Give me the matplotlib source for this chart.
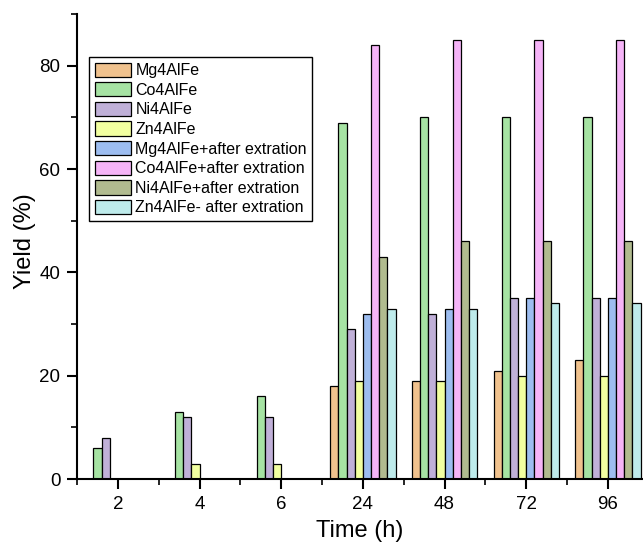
import matplotlib
matplotlib.use("Agg")
import matplotlib.pyplot as plt
import numpy as np
from matplotlib.ticker import MultipleLocator, FixedLocator

plt.rcParams['font.family'] = ['Liberation Sans', 'DejaVu Sans']

categories = ["2", "4", "6", "24", "48", "72", "96"]
series_names = ["Mg4AlFe", "Co4AlFe", "Ni4AlFe", "Zn4AlFe",
                "Mg4AlFe+after extration", "Co4AlFe+after extration",
                "Ni4AlFe+after extration", "Zn4AlFe- after extration"]
mg4alfe = [0, 0, 0, 18, 19, 21, 23]
co4alfe = [6, 13, 16, 69, 70, 70, 70]
ni4alfe = [8, 12, 12, 29, 32, 35, 35]
zn4alfe = [0, 3, 3, 19, 19, 20, 20]
mg4alfe_after = [0, 0, 0, 32, 33, 35, 35]
co4alfe_after = [0, 0, 0, 84, 85, 85, 85]
ni4alfe_after = [0, 0, 0, 43, 46, 46, 46]
zn4alfe_after = [0, 0, 0, 33, 33, 34, 34]
series = [mg4alfe, co4alfe, ni4alfe, zn4alfe,
          mg4alfe_after, co4alfe_after, ni4alfe_after, zn4alfe_after]
colors = ["#F0C28E", "#A6E3A3", "#C0B0D8", "#F2FFA0",
          "#9DBDF0", "#F5B4F7", "#B1BB8F", "#BEEBEB"]

fig = plt.figure(figsize=(6.43, 5.51), dpi=100)
ax = fig.add_axes([77/643, 72/551, 1 - 77/643, (479 - 14)/551])

x = np.arange(len(categories))
w = 0.1
n = len(series)
for i, (vals, name, c) in enumerate(zip(series, series_names, colors)):
    ax.bar(x + (i - (n - 1) / 2) * w, vals, width=w, color=c,
           edgecolor="black", linewidth=0.9, label=name)

ax.set_xlim(-0.5, 6.43)
ax.set_ylim(0, 90)
ax.set_xticks(x)
ax.set_xticklabels(categories)
ax.xaxis.set_minor_locator(FixedLocator(np.arange(-0.5, 7, 1.0)))
ax.yaxis.set_major_locator(MultipleLocator(20))
ax.yaxis.set_minor_locator(MultipleLocator(10))
ax.spines['top'].set_visible(False)
ax.spines['right'].set_visible(False)
for s in ['left', 'bottom']:
    ax.spines[s].set_linewidth(1.5)
ax.tick_params(which='major', direction='out', length=7, width=1.5,
               labelsize=13.5, pad=5)
ax.tick_params(which='minor', direction='out', length=4, width=1.2)

ax.set_xlabel("Time (h)", fontsize=17, labelpad=5)
ax.set_ylabel("Yield (%)", fontsize=17)
ax.yaxis.set_label_coords(-0.073, 0.512)

leg = ax.legend(loc='upper left', bbox_to_anchor=(12/566, 1 - (57 - 14)/465),
                fontsize=11.5, frameon=True, fancybox=False, edgecolor="black",
                framealpha=1, handlelength=2.25, handleheight=1.0,
                labelspacing=0.25, borderpad=0.35, handletextpad=0.3,
                borderaxespad=0)
leg.get_frame().set_linewidth(1.0)

fig.savefig("out.png", dpi=100)
